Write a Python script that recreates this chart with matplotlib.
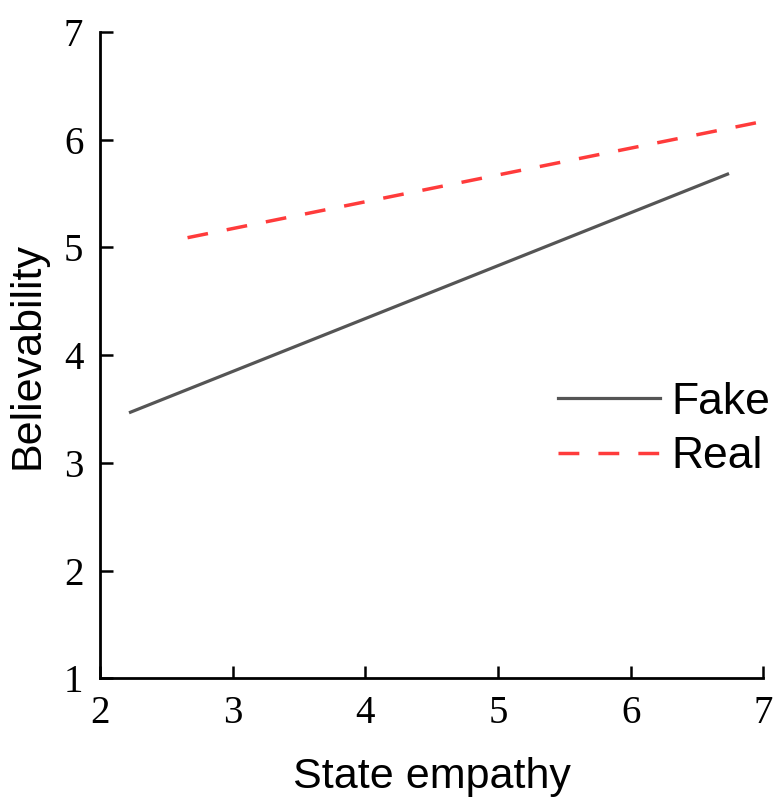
import matplotlib
matplotlib.use('Agg')
import matplotlib.pyplot as plt

# values
fake_x = [2.23, 6.73]
fake_y = [3.47, 5.68]
real_x = [2.66, 7.0]
real_y = [5.09, 6.17]
x_ticks = [2, 3, 4, 5, 6, 7]
y_ticks = [1, 2, 3, 4, 5, 6, 7]

fig = plt.figure(figsize=(7.75, 7.98), dpi=100)
ax = fig.add_axes([0.129, 0.150, 0.856, 0.810])

ax.plot(fake_x, fake_y, color='#555555', linewidth=2.3, label='Fake')
ax.plot(real_x, real_y, color='#ff3b3b', linewidth=2.5,
        linestyle=(0, (6, 5.5)), label='Real')

ax.set_xlim(2, 7)
ax.set_ylim(1, 7)
ax.set_xticks(x_ticks)
ax.set_yticks(y_ticks)
for s in ['top', 'right']:
    ax.spines[s].set_visible(False)
for s in ['left', 'bottom']:
    ax.spines[s].set_linewidth(2)
ax.tick_params(direction='in', length=9, width=1.8, pad=12)
for lab in ax.get_xticklabels() + ax.get_yticklabels():
    lab.set_fontfamily('Liberation Serif')
    lab.set_fontsize(28)

ax.set_xlabel('State empathy', fontsize=31, family='Liberation Sans', labelpad=18)
ax.set_ylabel('Believability', fontsize=31, family='Liberation Sans', labelpad=12)

ax.legend(loc='center right', bbox_to_anchor=(1.07, 0.385), frameon=False,
          prop={'family': 'Liberation Sans', 'size': 32},
          handlelength=2.3, handletextpad=0.25, labelspacing=0.3)

plt.savefig('out.png', dpi=100)
plt.close()
